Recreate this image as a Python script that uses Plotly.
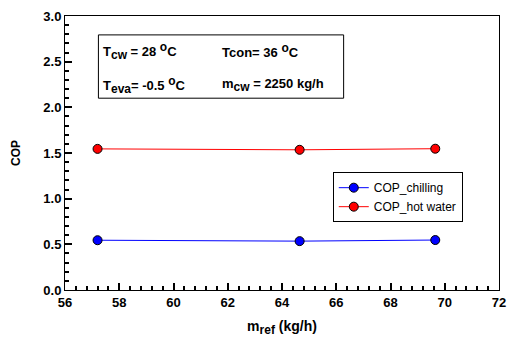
import plotly.graph_objects as go

m_ref = [57.2, 64.65, 69.65]
cop_chilling = [0.545, 0.535, 0.547]
cop_hot_water = [1.545, 1.535, 1.547]

x_range = [56, 72]
y_range = [0, 3.0]
x_ticks = [56, 58, 60, 62, 64, 66, 68, 70, 72]
y_ticks = [0.0, 0.5, 1.0, 1.5, 2.0, 2.5, 3.0]

FONT = "Liberation Sans, Arial, sans-serif"

fig = go.Figure()
fig.add_trace(go.Scatter(
    x=m_ref, y=cop_chilling, name="COP_chilling", mode="lines+markers",
    line=dict(color="#0000FF", width=1),
    marker=dict(color="#0000FF", size=9, line=dict(color="black", width=1))))
fig.add_trace(go.Scatter(
    x=m_ref, y=cop_hot_water, name="COP_hot water", mode="lines+markers",
    line=dict(color="#FF0000", width=1),
    marker=dict(color="#FF0000", size=9, line=dict(color="black", width=1))))

axis_common = dict(showgrid=False, zeroline=False, showline=True, linecolor="black",
                   linewidth=1, mirror=True, ticks="inside", ticklen=7, tickcolor="black",
                   tickwidth=1.5,
                   tickfont=dict(family=FONT, size=13, color="black", weight="bold"))

SUB = "<sub><span style='font-size:12px'>{}</span></sub>"
SUP = "<sup><span style='font-size:12px'>{}</span></sup>"

fig.update_xaxes(range=x_range, tickvals=x_ticks, ticktext=[str(v) for v in x_ticks],
                 minor=dict(dtick=0.4, ticks="inside", ticklen=4, tickcolor="black"),
                 title=dict(text="m" + SUB.format("ref") + " (kg/h)", standoff=12,
                            font=dict(family=FONT, size=14, color="black", weight="bold")),
                 **axis_common)
fig.update_yaxes(range=y_range, tickvals=y_ticks, ticktext=[f"{v:.1f}" for v in y_ticks],
                 minor=dict(dtick=0.1, ticks="inside", ticklen=4, tickcolor="black"),
                 title=dict(text="COP", standoff=20,
                            font=dict(family=FONT, size=12, color="black", weight="bold")),
                 **axis_common)

ann_font = dict(family=FONT, size=13, color="black", weight="bold")
texts = [
    (0.084, 0.874, "T" + SUB.format("cw") + " = 28 " + SUP.format("o") + "C"),
    (0.358, 0.874, "Tcon= 36 " + SUP.format("o") + "C"),
    (0.084, 0.747, "T" + SUB.format("eva") + "= -0.5 " + SUP.format("o") + "C"),
    (0.358, 0.747, "m" + SUB.format("cw") + " = 2250 kg/h"),
]
for x, y, t in texts:
    fig.add_annotation(x=x, y=y, xref="paper", yref="paper", text=t, showarrow=False,
                       xanchor="left", yanchor="middle", font=ann_font)

fig.add_shape(type="rect", xref="paper", yref="paper", x0=0.077, x1=0.642, y0=0.700, y1=0.931,
              line=dict(color="black", width=1), fillcolor="rgba(0,0,0,0)")

fig.update_layout(
    width=515, height=343,
    margin=dict(l=65, r=9, t=13, b=53),
    paper_bgcolor="white", plot_bgcolor="white",
    showlegend=True,
    legend=dict(x=0.617, y=0.43, xanchor="left", yanchor="top",
                bordercolor="black", borderwidth=1, bgcolor="white",
                font=dict(family=FONT, size=12, color="black"),
                tracegroupgap=0, itemwidth=30),
)

fig.write_html("out.html")
